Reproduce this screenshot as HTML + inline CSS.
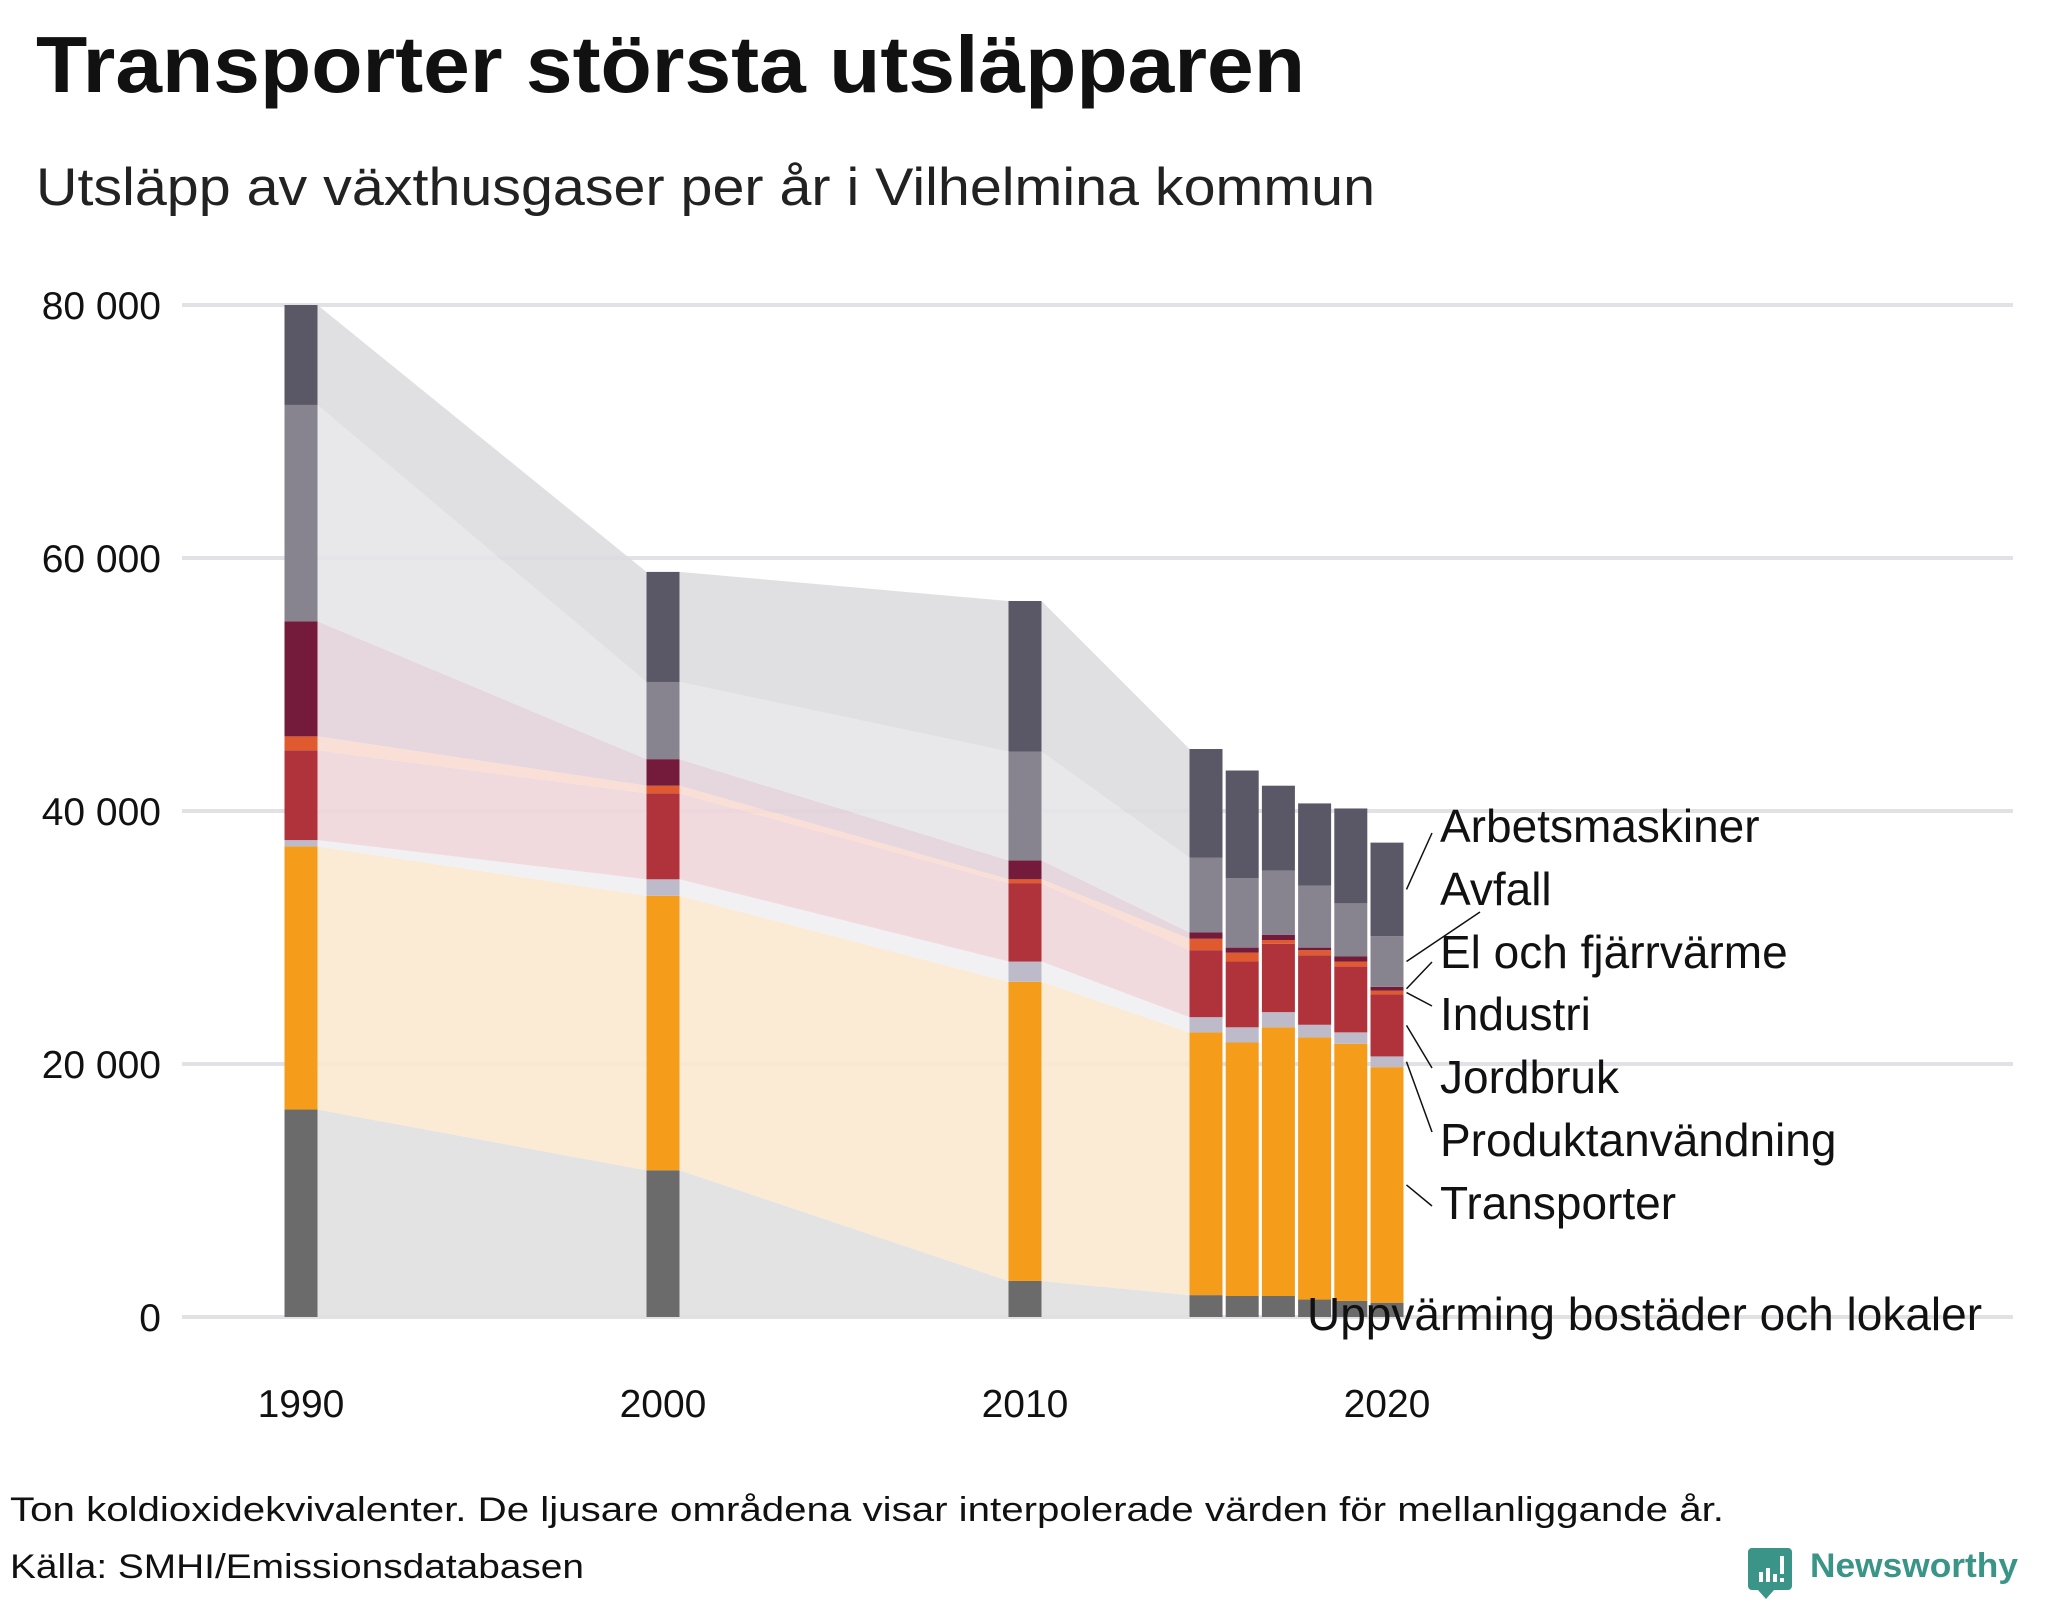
<!DOCTYPE html>
<html><head><meta charset="utf-8"><style>
html,body{margin:0;padding:0;background:#fff;}
svg{display:block;}
text{font-family:"Liberation Sans",sans-serif;}
</style></head><body>
<svg id="chart" width="2048" height="1600" viewBox="0 0 2048 1600" xmlns="http://www.w3.org/2000/svg">
<text x="36" y="92" font-size="80" font-weight="bold" fill="#111" textLength="1269" lengthAdjust="spacingAndGlyphs">Transporter största utsläpparen</text>
<text x="36" y="205" font-size="53" fill="#222" textLength="1339" lengthAdjust="spacingAndGlyphs">Utsläpp av växthusgaser per år i Vilhelmina kommun</text>
<g id="grid"></g>
<g id="areas"></g>
<g id="bars"></g>
<g id="labels"></g>
<text x="10" y="1521" font-size="34" fill="#111" textLength="1714" lengthAdjust="spacingAndGlyphs">Ton koldioxidekvivalenter. De ljusare områdena visar interpolerade värden för mellanliggande år.</text>
<text x="10" y="1578" font-size="34" fill="#111" textLength="574" lengthAdjust="spacingAndGlyphs">Källa: SMHI/Emissionsdatabasen</text>
<g>
<path d="M1752 1548 h36 a4 4 0 0 1 4 4 v34 a4 4 0 0 1 -4 4 h-14 l-8 9 l-8 -9 h-6 a4 4 0 0 1 -4 -4 v-34 a4 4 0 0 1 4 -4z" fill="#3a9488"/>
<rect x="1759" y="1572" width="4" height="10" fill="#fff"/><rect x="1766" y="1568" width="4" height="14" fill="#fff"/><rect x="1773" y="1574" width="4" height="8" fill="#fff"/><rect x="1780" y="1556" width="4" height="18" fill="#fff"/><rect x="1780" y="1578" width="4" height="4" fill="#fff"/>
<text x="1810" y="1577" font-size="34" font-weight="bold" fill="#3a9488" textLength="208" lengthAdjust="spacingAndGlyphs">Newsworthy</text>
</g>
</svg>
<script>
const years = [1990, 2000, 2010, 2015, 2016, 2017, 2018, 2019, 2020];
const seriesNames = ["Uppvärming bostäder och lokaler","Transporter","Produktanvändning","Jordbruk","Industri","El och fjärrvärme","Avfall","Arbetsmaskiner"];
const uppvarming = [16.4, 11.6, 2.85, 1.73, 1.66, 1.66, 1.38, 1.27, 1.13];
const transporter = [20.8, 21.7, 23.65, 20.77, 20.04, 21.24, 20.72, 20.33, 18.62];
const produkt = [0.5, 1.3, 1.6, 1.2, 1.2, 1.2, 1.0, 0.9, 0.85];
const jordbruk = [7.1, 6.8, 6.2, 5.3, 5.2, 5.4, 5.5, 5.2, 4.9];
const industri = [1.1, 0.6, 0.3, 0.9, 0.7, 0.3, 0.4, 0.4, 0.3];
const elFjarr = [9.1, 2.1, 1.5, 0.5, 0.4, 0.4, 0.2, 0.4, 0.3];
const avfall = [17.1, 6.1, 8.6, 5.9, 5.5, 5.1, 4.9, 4.2, 4.0];
const arbetsmaskiner = [7.9, 8.7, 11.9, 8.6, 8.5, 6.7, 6.5, 7.5, 7.4];
const yTicks = [0, 20000, 40000, 60000, 80000];
const yTickLabels = ["0", "20 000", "40 000", "60 000", "80 000"];
const xTicks = [1990, 2000, 2010, 2020];

const series = [uppvarming, transporter, produkt, jordbruk, industri, elFjarr, avfall, arbetsmaskiner];
const barColors = ["#6b6b6b","#f59c1a","#bdbbc9","#b0333c","#e05a30","#741b3b","#87848f","#5a5766"];
const areaColors = ["#e0e0e0","#fbe9cf","#f0f0f2","#eed6da","#fadcd3","#e3d3da","#e6e6e9","#dddde0"];
const slugs = ["uppvarming","transporter","produktanvandning","jordbruk","industri","el-fjarrvarme","avfall","arbetsmaskiner"];

const NS = "http://www.w3.org/2000/svg";
function yScale(v){ return 1317 - v * 1012 / 80000; }
function xScale(yr){ return 301 + (yr - 1990) * 36.2; }
const BW = 33;
function mk(tag, attrs, parent){ const e = document.createElementNS(NS, tag); for (const k in attrs) e.setAttribute(k, attrs[k]); parent.appendChild(e); return e; }

const grid = document.getElementById('grid');
yTicks.forEach((t, i) => {
  const l = mk('line', {x1:182, x2:2013, y1:yScale(t), y2:yScale(t), stroke:'#e2e1e6', 'stroke-width':4}, grid);
  
  
  const tx = mk('text', {x:161, y:yScale(t)+14, 'text-anchor':'end', 'font-size':39, fill:'#111'}, grid);
  tx.textContent = yTickLabels[i];
  
  
});
xTicks.forEach(t => {
  const tx = mk('text', {x:xScale(t), y:1417, 'text-anchor':'middle', 'font-size':39, fill:'#111'}, grid);
  tx.textContent = t;
  
  
});

const cum = years.map((_, j) => { let s = 0; return series.map(a => { const b = s; s += a[j]; return [b, s]; }); });

const areas = document.getElementById('areas');
for (let j = 0; j < years.length - 1; j++) {
  if (years[j+1] - years[j] <= 1) continue;
  const xa = xScale(years[j]) + BW/2, xb = xScale(years[j+1]) - BW/2;
  series.forEach((_, s) => {
    const a = cum[j][s], b = cum[j+1][s];
    const pts = `${xa},${yScale(a[0]*1000)} ${xb},${yScale(b[0]*1000)} ${xb},${yScale(b[1]*1000)} ${xa},${yScale(a[1]*1000)}`;
    const p = mk('polygon', {points:pts, fill:areaColors[s], 'fill-opacity':0.9}, areas);
    
    
  });
}

const bars = document.getElementById('bars');
years.forEach((yr, j) => {
  series.forEach((_, s) => {
    const c = cum[j][s];
    const r = mk('rect', {x:xScale(yr)-BW/2, y:yScale(c[1]*1000), width:BW, height:yScale(c[0]*1000)-yScale(c[1]*1000), fill:barColors[s]}, bars);
    
    
  });
});

const labels = document.getElementById('labels');
const labelY = [1330, 1219, 1156, 1093, 1030, 968, 905, 842];
const endOffset = [0, -13, -24, -25, -24, -6, 7, -9];
const last = cum[years.length - 1];
const xr = xScale(years[years.length-1]) + BW/2 + 3;
series.forEach((_, s) => {
  const tx = mk('text', {x: s === 0 ? 1307 : 1440, y: labelY[s], 'font-size':46, fill:'#111'}, labels);
  tx.textContent = seriesNames[s];
  
  
  if (s === 0) return;
  const mid = yScale((last[s][0] + last[s][1]) / 2 * 1000);
  const endX = s === 6 ? 1480 : 1432;
  const ln = mk('line', {x1:xr, y1:mid, x2:endX, y2:labelY[s] + endOffset[s], stroke:'#111', 'stroke-width':1.5}, labels);
  
  
});
</script>
</body></html>
